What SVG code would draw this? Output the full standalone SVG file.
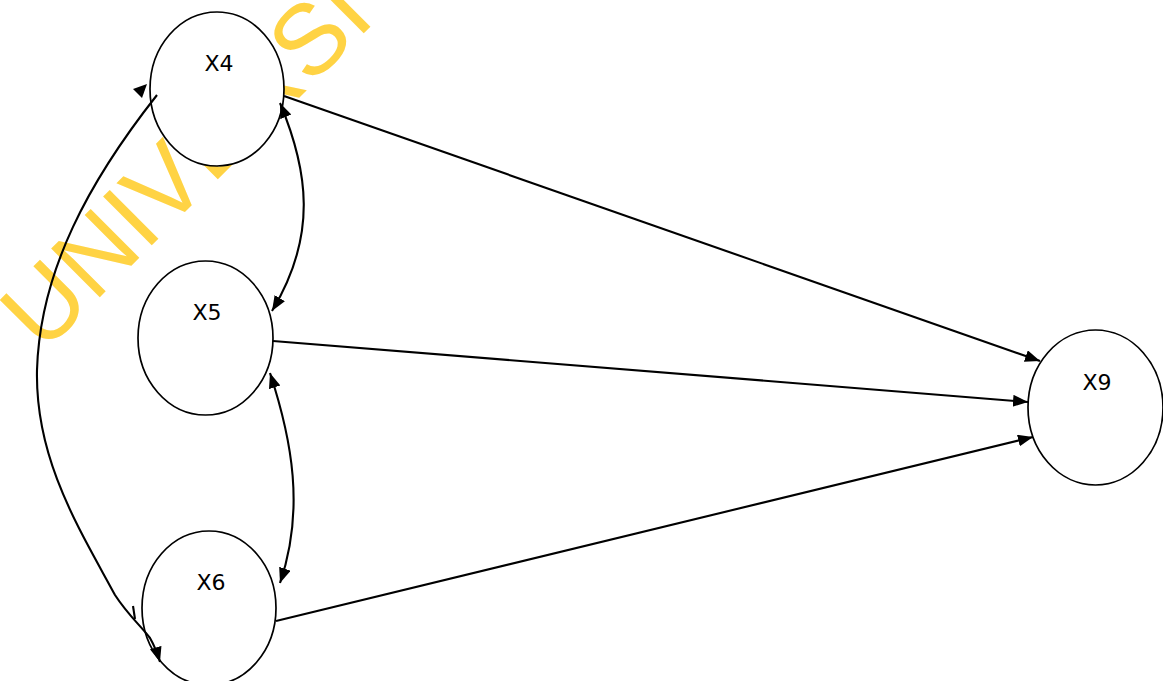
<svg xmlns="http://www.w3.org/2000/svg" width="1163" height="681" viewBox="0 0 1163 681">
<style>
.node ellipse{fill:#fff;stroke:#000;stroke-width:1.7}
.node text{font-family:"DejaVu Sans",Verdana,sans-serif;font-size:22px;fill:#000;text-anchor:middle}
.edge{fill:none;stroke:#000;stroke-width:2.1}
.wm{font-family:"Liberation Sans",Arial,sans-serif;font-size:100px;fill:#FFD344}
</style>
<defs>
<marker id="ah" markerUnits="userSpaceOnUse" markerWidth="18" markerHeight="14" refX="15" refY="6" orient="auto-start-reverse">
<path d="M0,0 L15,6 L0,12 z" fill="#000"/>
</marker>
</defs>
<rect width="1163" height="681" fill="#fff"/>
<text class="wm" x="43" y="354" transform="rotate(-45 43 354)">UNIVERSI</text>
<g id="X4" class="node"><ellipse cx="217" cy="89" rx="67" ry="77"/><text x="219" y="71">X4</text></g>
<g id="X5" class="node"><ellipse cx="205.5" cy="338" rx="67.5" ry="77"/><text x="207" y="320">X5</text></g>
<g id="X6" class="node"><ellipse cx="209" cy="608" rx="67" ry="77"/><text x="211" y="590">X6</text></g>
<g id="X9" class="node"><ellipse cx="1095.5" cy="407.5" rx="67.5" ry="77.5"/><text x="1097" y="390">X9</text></g>
<g id="connectors">
<path class="edge" d="M284,96 L1040,361" marker-end="url(#ah)"/>
<path class="edge" d="M273,341 L1028,402" marker-end="url(#ah)"/>
<path class="edge" d="M276,621 L1033,437" marker-end="url(#ah)"/>
<path class="edge" d="M280,103 C308,170 318,235 272,311" marker-start="url(#ah)" marker-end="url(#ah)"/>
<path class="edge" d="M270,373 C292,440 305,510 280,583" marker-start="url(#ah)" marker-end="url(#ah)"/>
<path class="edge" d="M157,95 C90,180 40,270 37,370 C35,460 80,530 115,595 C128,615 140,625 150,638 C154,645 157,652 160,662" marker-end="url(#ah)"/>
<path d="M147,84 L133,89 L142,98 z" fill="#000"/>
<path class="edge" d="M133,606 L135,619" stroke-width="1.5"/>
</g>
</svg>
